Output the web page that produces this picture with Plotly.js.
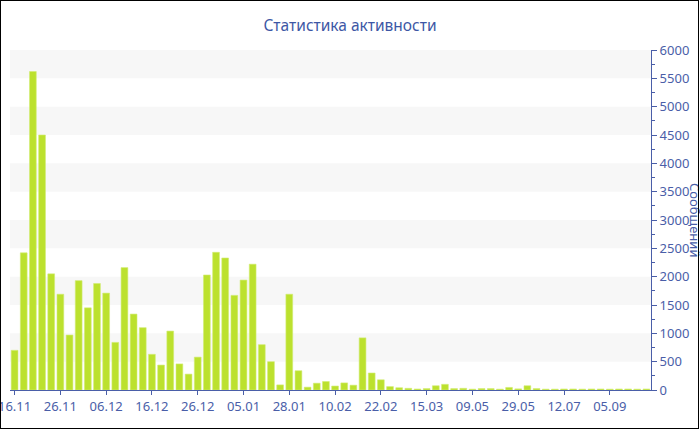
<!DOCTYPE html>
<html>
<head>
<meta charset="utf-8">
<script src="https://cdn.plot.ly/plotly-3.0.1.min.js"></script>
<style>
  html, body { margin: 0; padding: 0; background: #fff; }
  #wrap { position: relative; width: 700px; height: 430px; }
  #chart { position: absolute; left: 0; top: 0; width: 700px; height: 430px; }
  #frame { position: absolute; left: 0; top: 0; width: 699px; height: 429px; box-sizing: border-box; border: 1px solid #000; pointer-events: none; }
</style>
</head>
<body>
<div id="wrap"><div id="chart"></div><div id="frame"></div></div>
<script>
// Data
const values = [
  700, 2420, 5620, 4500, 2050, 1690, 970, 1930, 1450, 1880,
  1710, 840, 2160, 1340, 1100, 630, 440, 1040, 460, 280,
  580, 2030, 2430, 2330, 1670, 1940, 2220, 800, 500, 90,
  1690, 340, 50, 120, 150, 70, 125, 85, 920, 300,
  180, 60, 40, 30, 18, 25, 75, 100, 25, 30,
  15, 25, 25, 15, 45, 20, 75, 25, 15, 15,
  18, 18, 15, 18, 18, 15, 18, 18, 15, 18
];
const tickIndex = [0, 5, 10, 15, 20, 25, 30, 35, 40, 45, 50, 55, 60, 65];
const tickLabels = ['16.11', '26.11', '06.12', '16.12', '26.12', '05.01', '28.01', '10.02', '22.02', '15.03', '09.05', '29.05', '12.07', '05.09'];
const bandStarts = [500, 1500, 2500, 3500, 4500, 5500];
const bandSize = 500;

const xs = values.map((v, i) => i);
const blue = '#4a5ea8';
const font = 'Noto Sans, Open Sans, DejaVu Sans, sans-serif';

const shapes = bandStarts.map(b => ({
  type: 'rect', xref: 'paper', yref: 'y', x0: 0, x1: 1, y0: b, y1: b + bandSize,
  fillcolor: '#f7f7f7', line: { width: 0 }, layer: 'below'
}));

const trace = {
  type: 'bar', x: xs, y: values,
  marker: { color: '#bce12e', line: { color: '#d2ec73', width: 0.6 } },
  hoverinfo: 'y'
};

const layout = {
  width: 700, height: 430,
  margin: { l: 10, r: 49, t: 50, b: 40 },
  paper_bgcolor: '#fff', plot_bgcolor: '#fff',
  bargap: 0.26,
  showlegend: false,
  title: { text: 'Статистика активности', font: { family: font, size: 15.5, color: '#3d57a5' }, x: 0.5, xanchor: 'center', y: 0.94, yanchor: 'middle' },
  xaxis: {
    range: [-0.5, values.length - 0.5],
    tickmode: 'array', tickvals: tickIndex, ticktext: tickLabels,
    ticks: 'outside', ticklen: 4, tickcolor: blue,
    ticklabeloverflow: 'allow',
    showline: true, linecolor: blue, linewidth: 1,
    showgrid: false, zeroline: false,
    tickfont: { family: font, size: 13, color: blue }
  },
  yaxis: {
    side: 'right', range: [0, 6000], dtick: 500, tick0: 0,
    ticks: 'outside', ticklen: 5, tickcolor: blue,
    minor: { dtick: 250, ticks: 'outside', ticklen: 3, tickcolor: blue },
    showline: true, linecolor: blue, linewidth: 1,
    showgrid: false, zeroline: false,
    tickfont: { family: font, size: 13, color: blue }
  },
  shapes: shapes,
  annotations: [{
    text: 'Сообщений', xref: 'paper', yref: 'paper', x: 1.0, xshift: 44, y: 0.5,
    xanchor: 'center', yanchor: 'middle', textangle: 90, showarrow: false,
    font: { family: font, size: 13, color: blue }
  }]
};

Plotly.newPlot('chart', [trace], layout, { displayModeBar: false, staticPlot: true });
</script>
</body>
</html>
